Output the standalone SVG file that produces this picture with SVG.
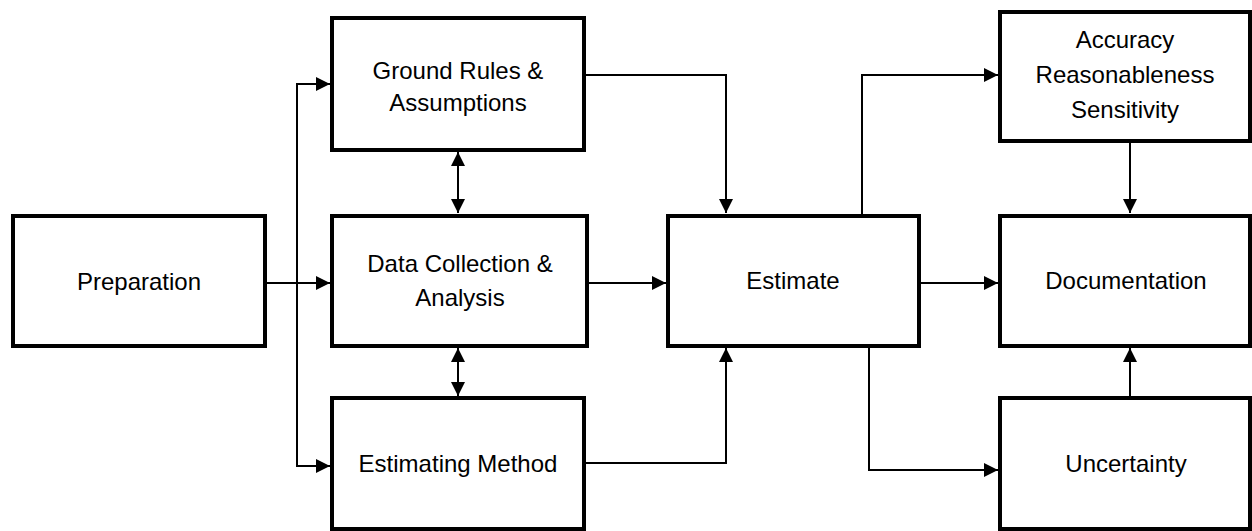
<svg xmlns="http://www.w3.org/2000/svg" width="1252" height="531" viewBox="0 0 1252 531">
<defs>
<marker id="ah" markerUnits="userSpaceOnUse" markerWidth="14" markerHeight="14" viewBox="0 0 14 14" refX="14" refY="7" orient="auto-start-reverse">
<path d="M0,0 L14,7 L0,14 Z" fill="#000"/>
</marker>
<style>
.box{fill:#fff;stroke:#000;stroke-width:4}
.lbl{font-family:"Liberation Sans",Arial,sans-serif;font-size:24px;fill:#000;text-anchor:middle}
.c{fill:none;stroke:#000;stroke-width:2}
</style>
</defs>
<rect width="1252" height="531" fill="#fff"/>
<g id="connectors">
<path class="c" d="M265,283 H330" marker-end="url(#ah)"/>
<path class="c" d="M330,84 H297 V466 H330" marker-start="url(#ah)" marker-end="url(#ah)"/>
<path class="c" d="M458,152 V213" marker-start="url(#ah)" marker-end="url(#ah)"/>
<path class="c" d="M458,348 V396" marker-start="url(#ah)" marker-end="url(#ah)"/>
<path class="c" d="M586,75 H726 V213" marker-end="url(#ah)"/>
<path class="c" d="M589,283 H666" marker-end="url(#ah)"/>
<path class="c" d="M586,463 H726 V348" marker-end="url(#ah)"/>
<path class="c" d="M862,214 V75 H998" marker-end="url(#ah)"/>
<path class="c" d="M921,283 H998" marker-end="url(#ah)"/>
<path class="c" d="M869,348 V470 H998" marker-end="url(#ah)"/>
<path class="c" d="M1130,142 V213" marker-end="url(#ah)"/>
<path class="c" d="M1130,396 V348" marker-end="url(#ah)"/>
</g>
<g id="preparation">
<rect class="box" x="13" y="216" width="252" height="130"/>
<text class="lbl" x="139" y="290">Preparation</text>
</g>
<g id="ground-rules">
<rect class="box" x="332" y="18" width="252" height="132"/>
<text class="lbl" x="458" y="79">Ground Rules &amp;</text>
<text class="lbl" x="458" y="111">Assumptions</text>
</g>
<g id="data-collection">
<rect class="box" x="332" y="216" width="255" height="130"/>
<text class="lbl" x="460" y="272">Data Collection &amp;</text>
<text class="lbl" x="460" y="306">Analysis</text>
</g>
<g id="estimating-method">
<rect class="box" x="332" y="398" width="252" height="131"/>
<text class="lbl" x="458" y="472">Estimating Method</text>
</g>
<g id="estimate">
<rect class="box" x="668" y="216" width="251" height="130"/>
<text class="lbl" x="793" y="289">Estimate</text>
</g>
<g id="accuracy">
<rect class="box" x="1000" y="12" width="250" height="129"/>
<text class="lbl" x="1125" y="48">Accuracy</text>
<text class="lbl" x="1125" y="83">Reasonableness</text>
<text class="lbl" x="1125" y="118">Sensitivity</text>
</g>
<g id="documentation">
<rect class="box" x="1000" y="216" width="250" height="130"/>
<text class="lbl" x="1126" y="289">Documentation</text>
</g>
<g id="uncertainty">
<rect class="box" x="1000" y="398" width="250" height="131"/>
<text class="lbl" x="1126" y="472">Uncertainty</text>
</g>
</svg>
